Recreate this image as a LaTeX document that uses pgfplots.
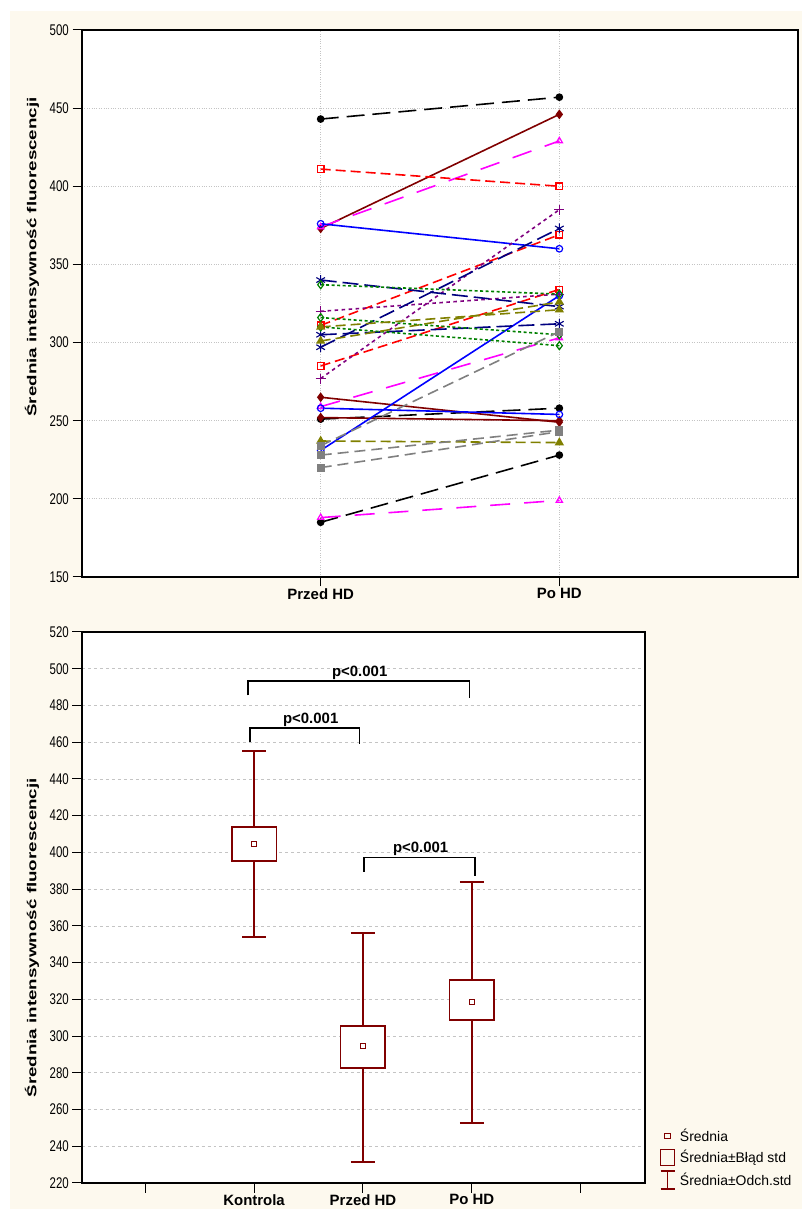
\documentclass[border=0pt]{standalone}
\usepackage{fontspec}
\setmainfont{Liberation Sans}
\usepackage{graphicx}
\usepackage{pgfplots}
\pgfplotsset{compat=1.18}
\usepgfplotslibrary{statistics}
\definecolor{bgcream}{HTML}{FDF9EE}
\definecolor{maroonc}{HTML}{800000}
\definecolor{navyc}{HTML}{000080}
\definecolor{greenc}{HTML}{008000}
\definecolor{olivec}{HTML}{808000}
\definecolor{grayc}{HTML}{808080}
\definecolor{purplec}{HTML}{800080}
\definecolor{magentac}{HTML}{FF00FF}
\definecolor{redc}{HTML}{FF0000}
\definecolor{bluec}{HTML}{0000FF}
\definecolor{gridc}{HTML}{C4C4C4}
\pgfplotsset{
  mystyle/.style={
    scale only axis,
    anchor=south west,
    axis line style={line width=1.7bp},
    tick align=outside,
    major tick length=9.5bp,
    tick style={black, line width=1bp},
    xtick pos=bottom, ytick pos=left,
    /pgf/number format/assume math mode=true,
    /pgf/number format/1000 sep={},
    yticklabel={\scalebox{1}[1.35]{\pgfmathprintnumber{\tick}}},
    yticklabel style={font=\fontsize{11.5}{12}\selectfont, inner sep=3.5bp},
    xticklabel style={font=\bfseries\fontsize{15}{16}\selectfont, inner sep=2bp},
    ylabel style={font=\bfseries\fontsize{13}{14}\selectfont, anchor=center},
    axis background/.style={fill=white},
  },
  ln/.style={line width=1.6bp},
}
\begin{document}
\begin{tikzpicture}[x=1bp,y=1bp]
\fill[white] (0,0) rectangle (802,1209);
\fill[bgcream] (10,0) rectangle (802,1198);
% ---------------- top panel ----------------
\begin{axis}[mystyle,
  at={(82bp,632bp)}, width=716bp, height=547bp,
  xmin=0, xmax=3, ymin=150, ymax=500,
  xtick={1,2}, xticklabels={Przed HD,Po HD},
  ytick={150,200,...,500},
  grid=major, grid style={gridc, dotted, line width=0.7bp},
  ylabel={\scalebox{1.45}[1]{Średnia intensywność fluorescencji}},
  ylabel style={at={(axis description cs:-0.0698,0.585)}},
]
% black long dash, filled circle
\addplot[ln, black, dash pattern=on 18bp off 8bp, mark=*, mark size=3bp, mark options={solid}] coordinates {(1,443) (2,457)};
\addplot[ln, black, dash pattern=on 18bp off 8bp, mark=*, mark size=3bp, mark options={solid}] coordinates {(1,185) (2,228)};
\addplot[ln, black, dash pattern=on 18bp off 8bp, mark=*, mark size=3bp, mark options={solid}] coordinates {(1,251) (2,258)};
% maroon solid, filled diamond
\addplot[ln, maroonc, mark=diamond*, mark size=3.6bp] coordinates {(1,373) (2,446)};
\addplot[ln, maroonc, mark=diamond*, mark size=3.6bp] coordinates {(1,265) (2,249)};
\addplot[ln, maroonc, mark=diamond*, mark size=3.6bp] coordinates {(1,252) (2,250)};
% magenta long dash, open triangle
\addplot[ln, magentac, dash pattern=on 20bp off 14bp, mark=triangle, mark size=3.6bp, mark options={solid, fill=white, line width=1.2bp}] coordinates {(1,374) (2,429)};
\addplot[ln, magentac, dash pattern=on 20bp off 14bp, mark=triangle, mark size=3.6bp, mark options={solid, fill=white, line width=1.2bp}] coordinates {(1,259) (2,303)};
\addplot[ln, magentac, dash pattern=on 20bp off 14bp, mark=triangle, mark size=3.6bp, mark options={solid, fill=white, line width=1.2bp}] coordinates {(1,188) (2,199)};
% red dashed, open square
\addplot[ln, redc, dash pattern=on 10bp off 5bp, mark=square, mark size=3.3bp, mark options={solid, fill=white, line width=1.2bp}] coordinates {(1,411) (2,400)};
\addplot[ln, redc, dash pattern=on 10bp off 5bp, mark=square, mark size=3.3bp, mark options={solid, fill=white, line width=1.2bp}] coordinates {(1,311) (2,369)};
\addplot[ln, redc, dash pattern=on 10bp off 5bp, mark=square, mark size=3.3bp, mark options={solid, fill=white, line width=1.2bp}] coordinates {(1,285) (2,334)};
% blue solid, open circle
\addplot[ln, bluec, mark=o, mark size=3.3bp, mark options={fill=white, line width=1.2bp}] coordinates {(1,376) (2,360)};
\addplot[ln, bluec, mark=o, mark size=3.3bp, mark options={fill=white, line width=1.2bp}] coordinates {(1,258) (2,254)};
\addplot[ln, bluec, mark=o, mark size=3.3bp, mark options={fill=white, line width=1.2bp}] coordinates {(1,231) (2,330)};
% purple dotted, plus
\addplot[ln, purplec, dash pattern=on 3.5bp off 3.5bp, mark=+, mark size=5bp, mark options={solid, line width=1.2bp}] coordinates {(1,277) (2,385)};
\addplot[ln, purplec, dash pattern=on 3.5bp off 3.5bp, mark=+, mark size=5bp, mark options={solid, line width=1.2bp}] coordinates {(1,320) (2,331)};
% navy long dash, asterisk
\addplot[ln, navyc, dash pattern=on 16bp off 6bp, mark=asterisk, mark size=5bp, mark options={solid, line width=1.1bp}] coordinates {(1,340) (2,323)};
\addplot[ln, navyc, dash pattern=on 16bp off 6bp, mark=asterisk, mark size=5bp, mark options={solid, line width=1.1bp}] coordinates {(1,297) (2,373)};
\addplot[ln, navyc, dash pattern=on 16bp off 6bp, mark=asterisk, mark size=5bp, mark options={solid, line width=1.1bp}] coordinates {(1,305) (2,312)};
% green dotted, open diamond
\addplot[ln, greenc, dash pattern=on 3bp off 2.5bp, mark=diamond, mark size=4bp, mark options={solid, fill=white, line width=1.2bp}] coordinates {(1,337) (2,331)};
\addplot[ln, greenc, dash pattern=on 3bp off 2.5bp, mark=diamond, mark size=4bp, mark options={solid, fill=white, line width=1.2bp}] coordinates {(1,316) (2,305)};
\addplot[ln, greenc, dash pattern=on 3bp off 2.5bp, mark=diamond, mark size=4bp, mark options={solid, fill=white, line width=1.2bp}] coordinates {(1,310) (2,298)};
% olive dashed, filled triangle
\addplot[ln, olivec, dash pattern=on 10bp off 5bp, mark=triangle*, mark size=3.8bp, mark options={solid}] coordinates {(1,310) (2,321)};
\addplot[ln, olivec, dash pattern=on 10bp off 5bp, mark=triangle*, mark size=3.8bp, mark options={solid}] coordinates {(1,301) (2,326)};
\addplot[ln, olivec, dash pattern=on 10bp off 5bp, mark=triangle*, mark size=3.8bp, mark options={solid}] coordinates {(1,237) (2,236)};
% gray dashed, filled square
\addplot[ln, grayc, dash pattern=on 11bp off 6bp, mark=square*, mark size=3.2bp, mark options={solid}] coordinates {(1,228) (2,244)};
\addplot[ln, grayc, dash pattern=on 11bp off 6bp, mark=square*, mark size=3.2bp, mark options={solid}] coordinates {(1,220) (2,243)};
\addplot[ln, grayc, dash pattern=on 11bp off 6bp, mark=square*, mark size=3.2bp, mark options={solid}] coordinates {(1,234) (2,307)};
\end{axis}
% ---------------- bottom panel ----------------
\begin{axis}[mystyle,
  at={(82bp,26bp)}, width=563bp, height=551bp,
  xmin=-0.58, xmax=4.59, ymin=220, ymax=520,
  xtick={0,1,2,3,4}, xticklabels={,Kontrola,Przed HD,Po HD,},
  ytick={220,240,...,520},
  ymajorgrids, grid style={gridc, dashed, line width=0.7bp},
  ylabel={\scalebox{1.45}[1]{Średnia intensywność fluorescencji}},
  ylabel style={at={(axis description cs:-0.0888,0.445)}},
  boxplot/draw direction=y,
  legend style={at={(1.026,0.101)}, anchor=north west, draw=none, fill=none,
    font=\fontsize{14}{15}\selectfont, row sep=4bp, column sep=3bp, inner sep=0pt,
    nodes={inner sep=1.5bp}},
  legend cell align=left,
  legend image code/.code={},
]
\addlegendimage{legend image code/.code={\draw[maroonc, line width=1bp] (4bp,-2.8bp) rectangle (9.6bp,2.8bp);}}
\addlegendentry{Średnia}
\addlegendimage{legend image code/.code={\draw[maroonc, line width=1.6bp] (0bp,-8bp) rectangle (14bp,8bp);}}
\addlegendentry{Średnia±Błąd std}
\addlegendimage{legend image code/.code={\draw[maroonc, line width=1.6bp] (7bp,-9bp) -- (7bp,9bp) (0bp,9bp) -- (14bp,9bp) (0bp,-9bp) -- (14bp,-9bp);}}
\addlegendentry{Średnia±Odch.std}
\addplot[maroonc, line width=1.7bp, forget plot, fill=white,
  boxplot prepared={draw position=1, lower whisker=354, lower quartile=395.3, median=404.5, upper quartile=413.8, upper whisker=455.2, box extend=0.41, whisker extend=0.22},
  boxplot/draw/median/.code={}] coordinates {};
\addplot[maroonc, line width=1.7bp, forget plot, fill=white,
  boxplot prepared={draw position=2, lower whisker=231.5, lower quartile=282.7, median=294.6, upper quartile=305.5, upper whisker=356.2, box extend=0.41, whisker extend=0.22},
  boxplot/draw/median/.code={}] coordinates {};
\addplot[maroonc, line width=1.7bp, forget plot, fill=white,
  boxplot prepared={draw position=3, lower whisker=252.5, lower quartile=308.8, median=318.6, upper quartile=330.5, upper whisker=384, box extend=0.41, whisker extend=0.22},
  boxplot/draw/median/.code={}] coordinates {};
\addplot[only marks, mark=square, mark size=2.8bp, maroonc, line width=1bp, forget plot] coordinates {(1,404.5) (2,294.6) (3,318.6)};
% significance brackets
\addplot[black, line width=1.6bp, forget plot] coordinates {(0.945,485.5) (0.945,493.3) (2.98,493.3) (2.98,484.2)};
\addplot[black, line width=1.6bp, forget plot] coordinates {(0.96,460.2) (0.96,467.7) (1.97,467.7) (1.97,458.8)};
\addplot[black, line width=1.6bp, forget plot] coordinates {(2.01,389.5) (2.01,397.2) (3.03,397.2) (3.03,387.4)};
\node[font=\bfseries\fontsize{15}{16}\selectfont, anchor=south, inner sep=1bp] at (axis cs:1.97,493.6) {p<0.001};
\node[font=\bfseries\fontsize{15}{16}\selectfont, anchor=south, inner sep=1bp] at (axis cs:1.52,468.0) {p<0.001};
\node[font=\bfseries\fontsize{15}{16}\selectfont, anchor=south, inner sep=1bp] at (axis cs:2.53,397.5) {p<0.001};
\end{axis}
\end{tikzpicture}
\end{document}
